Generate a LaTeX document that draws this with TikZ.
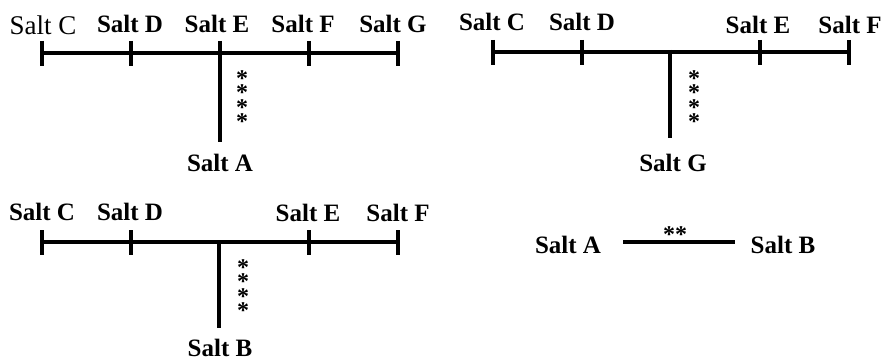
\documentclass[tikz,border=0pt]{standalone}
\usepackage{fontspec}
\setmainfont{Liberation Serif}
\begin{document}
\begin{tikzpicture}[x=1pt,y=-1pt,line width=3.3pt,
  lbl/.style={font=\bfseries\fontsize{25}{25}\selectfont, inner sep=0pt, text depth=0pt},
  lblplain/.style={font=\fontsize{27}{27}\selectfont, inner sep=0pt, text depth=0pt},
  ast/.style={font=\bfseries\fontsize{24}{24}\selectfont, inner sep=0pt, anchor=base, text height=7pt, text depth=0pt},
  tick/.style={line width=3.8pt}]
\useasboundingbox (0,0) rectangle (885,361);
% ---------- panel 1 ----------
\coordinate (c1) at (42,53);
\coordinate (d1) at (131,53);
\coordinate (e1) at (220,53);
\coordinate (f1) at (309,53);
\coordinate (g1) at (398,53);
\coordinate (a1) at (220,142);
\draw (c1) -- (g1);
\foreach \p in {c1,d1,e1,f1,g1} \draw[tick] ([yshift=12pt]\p) -- ([yshift=-13pt]\p);
\draw (e1) -- (a1);
\node[lblplain] (lc1) at (43,25) {Salt C};
\node[lbl] (ld1) at (130,24) {Salt D};
\node[lbl] (le1) at (217,24) {Salt E};
\node[lbl] (lf1) at (303,24) {Salt F};
\node[lbl] (lg1) at (393,24) {Salt G};
\node[lbl] (la1) at (220,163) {Salt A};
\foreach \i in {0,...,3} \node[ast] (s1\i) at (242,{86+14.5*\i}) {*};
% ---------- panel 2 ----------
\coordinate (c2) at (493,52);
\coordinate (d2) at (582,52);
\coordinate (j2) at (670,52);
\coordinate (e2) at (760,52);
\coordinate (f2) at (849,52);
\coordinate (g2) at (670,138);
\draw (c2) -- (f2);
\foreach \p in {c2,d2,e2,f2} \draw[tick] ([yshift=12pt]\p) -- ([yshift=-13pt]\p);
\draw[tick] ([yshift=2pt]j2) -- ([yshift=-4pt]j2);
\draw (j2) -- (g2);
\node[lbl] (lc2) at (492,22) {Salt C};
\node[lbl] (ld2) at (582,22) {Salt D};
\node[lbl] (le2) at (758,25) {Salt E};
\node[lbl] (lf2) at (850,25) {Salt F};
\node[lbl] (lg2) at (673,163) {Salt G};
\foreach \i in {0,...,3} \node[ast] (s2\i) at (694,{86+14.5*\i}) {*};
% ---------- panel 3 ----------
\coordinate (c3) at (42,242);
\coordinate (d3) at (131,242);
\coordinate (j3) at (219,242);
\coordinate (e3) at (309,242);
\coordinate (f3) at (398,242);
\coordinate (b3) at (219,328);
\draw (c3) -- (f3);
\foreach \p in {c3,d3,e3,f3} \draw[tick] ([yshift=12pt]\p) -- ([yshift=-13pt]\p);
\draw[tick] ([yshift=2pt]j3) -- ([yshift=-4pt]j3);
\draw (j3) -- (b3);
\node[lbl] (lc3) at (42,212) {Salt C};
\node[lbl] (ld3) at (130,212) {Salt D};
\node[lbl] (le3) at (308,213) {Salt E};
\node[lbl] (lf3) at (398,213) {Salt F};
\node[lbl] (lb3) at (220,348) {Salt B};
\foreach \i in {0,...,3} \node[ast] (s3\i) at (243,{275+14.5*\i}) {*};
% ---------- panel 4 ----------
\node[lbl] (la4) at (568,245) {Salt A};
\node[lbl] (lb4) at (783,245) {Salt B};
\coordinate (p4) at (623,242);
\coordinate (q4) at (735,242);
\draw (p4) -- (q4);
\node[ast] (s4) at (675,242) {**};
\end{tikzpicture}
\end{document}
